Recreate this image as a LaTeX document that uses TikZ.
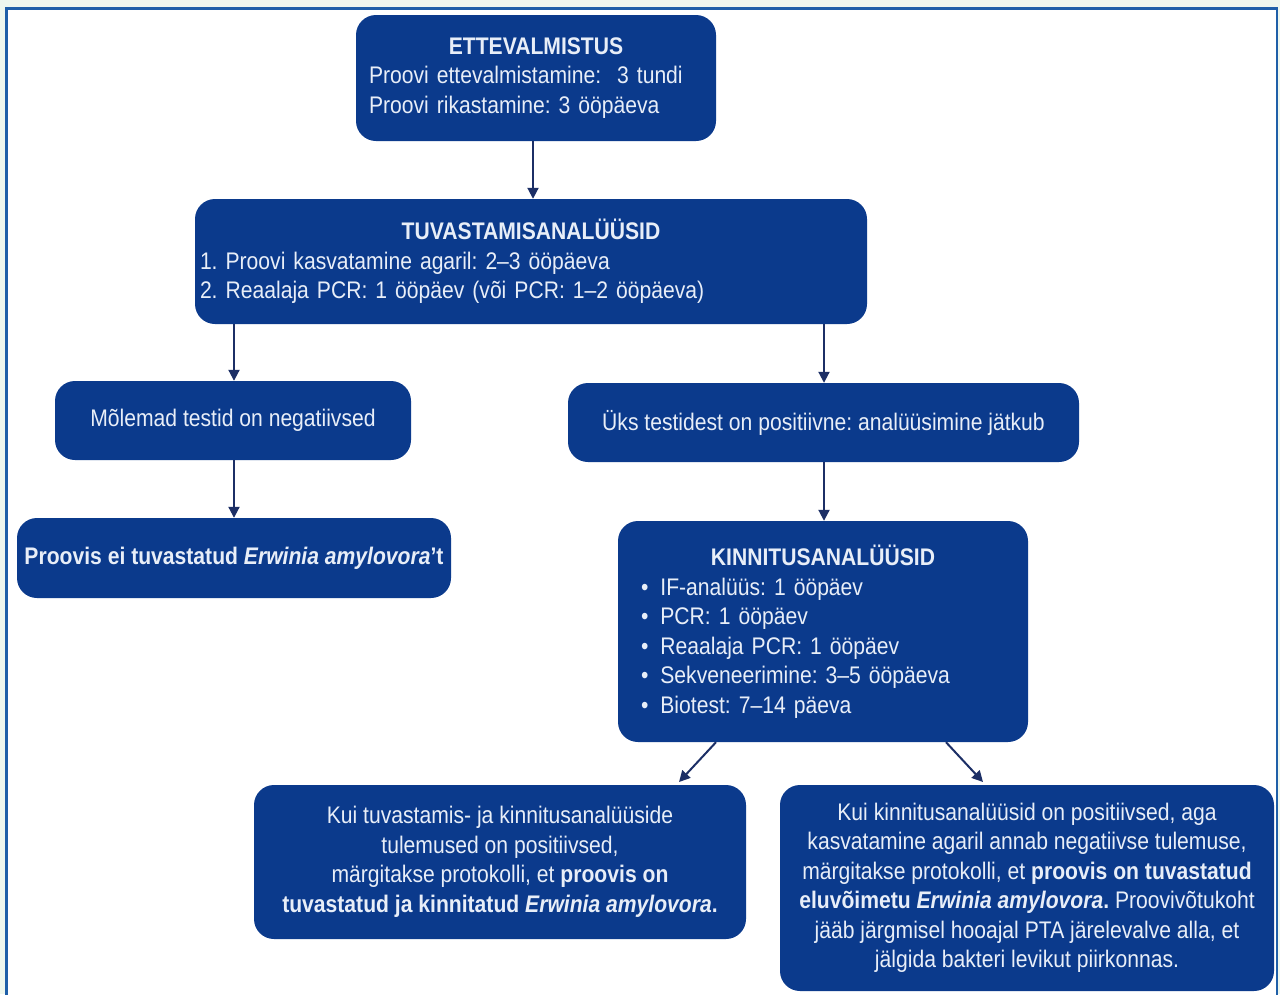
\documentclass[tikz,border=0pt]{standalone}
\usepackage{fontspec}
\setmainfont[FakeStretch=0.88]{Liberation Sans}
\usetikzlibrary{arrows.meta}
\definecolor{boxblue}{HTML}{0B3A8C}
\definecolor{txt}{HTML}{E8EEF8}
\definecolor{arr}{HTML}{1C2F66}
\definecolor{frame}{HTML}{1F5FA8}
\definecolor{mint}{HTML}{EEF7EE}
\tikzset{
  box/.style={fill=boxblue, rounded corners=20pt, text=txt, inner sep=0pt,
    font=\fontsize{24}{29.5}\selectfont\frenchspacing, align=center},
  conn/.style={draw=arr, line width=2pt, -{Stealth[length=11pt,width=11pt,inset=0pt]}},
}
\newcommand{\ttl}[1]{\makebox[\linewidth][c]{\bfseries #1}}
\newcommand{\ea}{\textbf{\textit{Erwinia amylovora}}}
\begin{document}
\begin{tikzpicture}[x=1pt,y=-1pt]
\useasboundingbox (0,0) rectangle (1280,994);
\fill[mint] (0,0) rectangle (1280,994);
\fill[white] (6,8) rectangle (1278,1000);
\draw[frame, line width=2.5pt] (6.5,1000) -- (6.5,8.5) -- (1277,8.5) -- (1277,1000);

\node[box, minimum width=360pt, minimum height=126pt, text width=334pt, align=left] (prep) at (536,78)
  {\ttl{ETTEVALMISTUS}\\ Proovi ettevalmistamine:~ 3 tundi\\ Proovi rikastamine: 3 ööpäeva};

\node[box, minimum width=672pt, minimum height=125pt, text width=662pt, align=left] (tuv) at (531,261.5)
  {\ttl{TUVASTAMISANALÜÜSID}\\ 1. Proovi kasvatamine agaril: 2–3 ööpäeva\\ 2. Reaalaja PCR: 1 ööpäev (või PCR: 1–2 ööpäeva)};

\node[box, minimum width=356pt, minimum height=79pt] (neg) at (233,420.5)
  {Mõlemad testid on negatiivsed};

\node[box, minimum width=511pt, minimum height=79pt] (pos) at (823.5,422.5)
  {Üks testidest on positiivne: analüüsimine jätkub};

\node[box, minimum width=434pt, minimum height=80pt] (ei) at (234,558)
  {\textbf{Proovis ei tuvastatud \ea’t}};

\node[box, minimum width=410pt, minimum height=221pt, text width=364pt, align=left] (kin) at (823,631.5)
  {\ttl{KINNITUSANALÜÜSID}\\
   \textbullet\enspace IF-analüüs: 1 ööpäev\\
   \textbullet\enspace PCR: 1 ööpäev\\
   \textbullet\enspace Reaalaja PCR: 1 ööpäev\\
   \textbullet\enspace Sekveneerimine: 3–5 ööpäeva\\
   \textbullet\enspace Biotest: 7–14 päeva};

\node[box, minimum width=492pt, minimum height=154pt] (bl) at (500,862)
  {Kui tuvastamis- ja kinnitusanalüüside\\ tulemused on positiivsed,\\
   märgitakse protokolli, et \textbf{proovis on}\\ \textbf{tuvastatud ja kinnitatud} \ea\textbf{.}};

\node[box, minimum width=494pt, minimum height=206pt] (br) at (1027,888)
  {Kui kinnitusanalüüsid on positiivsed, aga\\ kasvatamine agaril annab negatiivse tulemuse,\\
   märgitakse protokolli, et \textbf{proovis on tuvastatud}\\
   \textbf{eluvõimetu} \ea\textbf{.} Proovivõtukoht\\
   jääb järgmisel hooajal PTA järelevalve alla, et\\ jälgida bakteri levikut piirkonnas.};

\draw[conn] (prep.south -| 533,0) -- (tuv.north -| 533,0);
\draw[conn] (tuv.south -| 234,0) -- (neg.north -| 234,0);
\draw[conn] (tuv.south -| 824,0) -- (pos.north -| 824,0);
\draw[conn] (neg.south -| 234,0) -- (ei.north -| 234,0);
\draw[conn] (pos.south -| 824,0) -- (kin.north -| 824,0);
\draw[conn] (kin.south -| 716,0) -- (679,782);
\draw[conn] (kin.south -| 946,0) -- (983,782);
\end{tikzpicture}
\end{document}
